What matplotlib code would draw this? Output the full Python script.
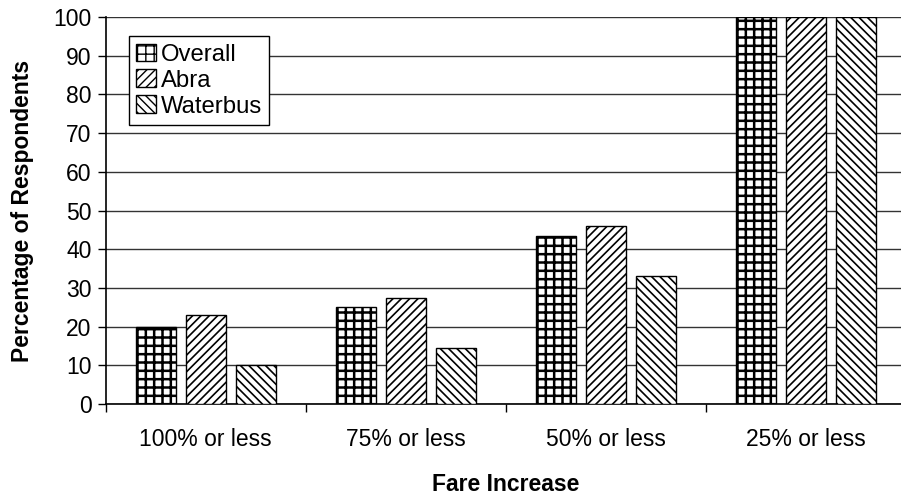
import matplotlib
matplotlib.use("Agg")
import matplotlib.pyplot as plt
import numpy as np

plt.rcParams['font.family'] = ['Liberation Sans', 'DejaVu Sans']

categories = ["100% or less", "75% or less", "50% or less", "25% or less"]
series_names = ["Overall", "Abra", "Waterbus"]
overall = [20, 25, 43.5, 100]
abra = [23, 27.5, 46, 100]
waterbus = [10, 14.5, 33, 100]
yticks = list(range(0, 101, 10))

values = [overall, abra, waterbus]
hatches = ["++", "////", "\\\\\\\\"]
hatch_lw = [1.8, 1.2, 1.2]

FS = 16.5

fig = plt.figure(figsize=(9.01, 4.95), dpi=100)
ax = fig.add_axes([105.5 / 901, 91 / 495, 800 / 901, 387 / 495])

x = np.arange(len(categories))
width = 0.2
offsets = [-0.25, 0.0, 0.25]

for vals, off, h, lw, name in zip(values, offsets, hatches, hatch_lw, series_names):
    with plt.rc_context({'hatch.linewidth': lw}):
        bars = ax.bar(x + off, vals, width, facecolor='white', edgecolor='black',
                      hatch=h, linewidth=1.0, label=name, zorder=3)
    for b in bars:
        if hasattr(b, "set_hatch_linewidth"):
            b.set_hatch_linewidth(lw)

ax.set_xlim(-0.5, len(categories) - 0.5)
ax.set_ylim(0, 100)
ax.set_yticks(yticks)
ax.tick_params(axis='y', labelsize=FS, length=6, width=1, direction='out', pad=4)
ax.yaxis.grid(True, color='#333333', linewidth=1.0, zorder=0)
ax.set_axisbelow(True)

# Category boundaries carry the tick marks; labels sit at category centres
ax.set_xticks(np.arange(-0.5, len(categories), 1.0))
ax.set_xticklabels([])
ax.set_xticks(x, minor=True)
ax.set_xticklabels(categories, minor=True, fontsize=FS)
ax.tick_params(axis='x', which='major', length=6, width=1, direction='out')
ax.tick_params(axis='x', which='minor', length=0, pad=17)

for s in ['top', 'right']:
    ax.spines[s].set_visible(False)
for s in ['left', 'bottom']:
    ax.spines[s].set_color('black')
    ax.spines[s].set_linewidth(1.2)

ax.set_ylabel("Percentage of Respondents", fontsize=FS, fontweight='bold', labelpad=14)
ax.set_xlabel("Fare Increase", fontsize=FS, fontweight='bold', labelpad=16)

leg = ax.legend(loc='upper left', bbox_to_anchor=(0.029, 0.95), fontsize=17.2,
                fancybox=False, frameon=True, edgecolor='black', framealpha=1,
                handlelength=0.85, handleheight=0.78, handletextpad=0.2,
                labelspacing=0.15, borderpad=0.3, borderaxespad=0)
leg.get_frame().set_linewidth(1.0)
leg.set_zorder(5)

fig.savefig("out.png", dpi=100)
